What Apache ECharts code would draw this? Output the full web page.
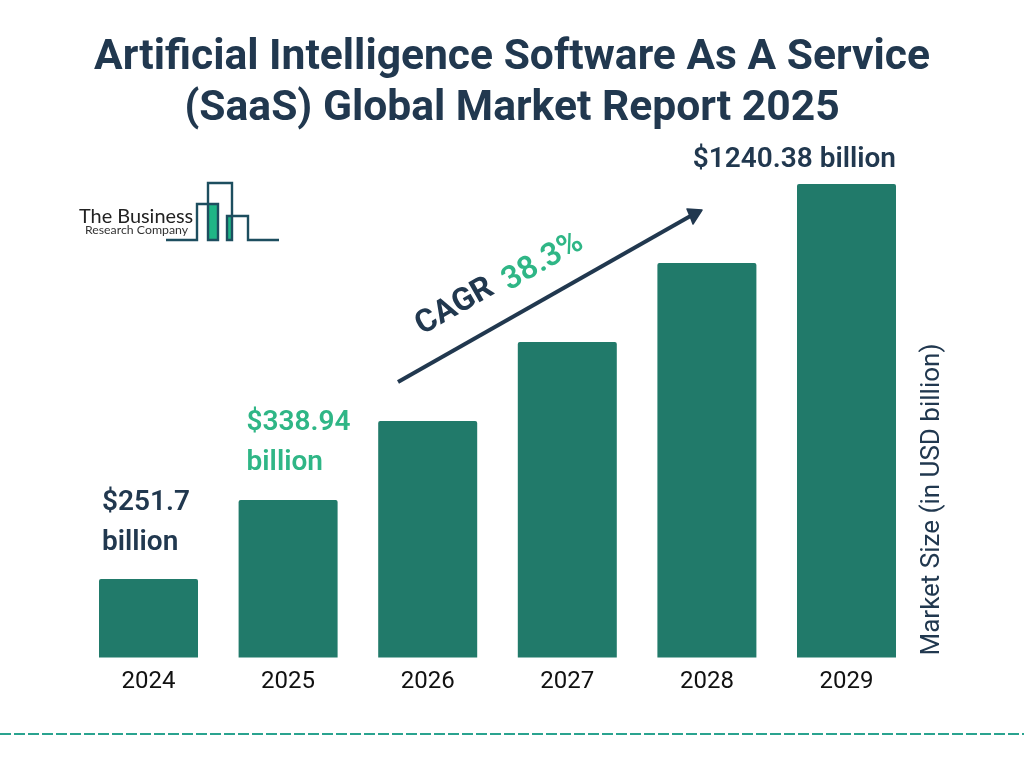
<!DOCTYPE html>
<html><head><meta charset="utf-8">
<style>html,body{margin:0;padding:0;background:#fff}#c{width:1024px;height:768px}</style>
<script src="https://cdn.jsdelivr.net/npm/echarts@6/dist/echarts.min.js"></script>
</head><body><div id="c"></div>
<script>
const years = ['2024','2025','2026','2027','2028','2029'];
// Bar heights as drawn in the picture (an even staircase), on a zero-based scale whose top is 1240.38.
const barValues = [205.6, 412.6, 619.5, 826.5, 1033.4, 1240.38];
// Printed labels; the picture prints three of them, and its bars are not proportional to them.
const barLabels = ['$251.7\nbillion', '$338.94\nbillion', '', '', '', '$1240.38 billion'];
const titleText = 'Artificial Intelligence Software As A Service\n(SaaS) Global Market Report 2025';
const yAxisName = 'Market Size (in USD billion)';
const NAVY = '#21384f', GREEN = '#2fb686', BAR = '#217a6a', LOGO = '#1d4e5f';
const FONT = 'Roboto';

const chart = echarts.init(document.getElementById('c'), null, {renderer:'canvas'});
chart.setOption({
  animation:false,
  backgroundColor:'#fff',
  title:{text:titleText,left:507,top:28,textAlign:'center',
    textStyle:{fontFamily:FONT,fontWeight:700,fontSize:42.6,lineHeight:51,color:NAVY}},
  grid:{left:78.7,right:107.7,top:184,bottom:110.5},
  xAxis:{type:'category',data:years,
    axisLine:{show:false},axisTick:{show:false},
    axisLabel:{fontFamily:FONT,fontSize:24,color:'#111',margin:12}},
  yAxis:{type:'value',min:0,max:1240.38,position:'right',
    axisLine:{show:false},axisTick:{show:false},axisLabel:{show:false},splitLine:{show:false},
    name:yAxisName,nameLocation:'start',nameRotate:90,nameGap:-2,
    nameTextStyle:{fontFamily:FONT,fontSize:26,color:NAVY,align:'left',verticalAlign:'top',padding:[3,0,0,0]}},
  series:[{type:'bar',barWidth:99,
    itemStyle:{color:BAR,borderRadius:[2,2,0,0]},
    data:barValues.map((v,i)=>{
      const isRight = i===5;
      return {value:v,label:{show:!!barLabels[i],formatter:barLabels[i],
        position:isRight?['100%',-4]:[i===1?8:3,i===1?-17:-16],align:isRight?'right':'left',verticalAlign:'bottom',
        fontFamily:FONT,fontWeight:600,fontSize:28,lineHeight:40,
        color:i===1?GREEN:NAVY}};
    })}],
  graphic:[
    {type:'line',shape:{x1:0,y1:734,x2:1024,y2:734},style:{stroke:'#2aa38f',lineWidth:2,lineDash:[11,3]}},
    {type:'line',shape:{x1:398,y1:382,x2:694,y2:214},style:{stroke:NAVY,lineWidth:4}},
    {type:'polygon',shape:{points:[[702,210],[693,224],[690,216],[687,209]]},style:{fill:NAVY,stroke:NAVY,lineWidth:1.5,lineJoin:'round'}},
    {type:'text',x:455,y:307,rotation:Math.PI*29.7/180,
      style:{text:'CAGR',x:0,y:0,align:'center',verticalAlign:'middle',fontFamily:FONT,fontWeight:700,fontSize:32,fill:NAVY}},
    {type:'text',x:543,y:262,rotation:Math.PI*29.7/180,
      style:{text:'38.3%',x:0,y:0,align:'center',verticalAlign:'middle',fontFamily:FONT,fontWeight:600,fontSize:32,fill:GREEN}},
    {type:'rect',shape:{x:209,y:204,width:9,height:35},style:{fill:'#1fb586'}},
    {type:'rect',shape:{x:227.5,y:217,width:4,height:22},style:{fill:'#1fb586'}},
    {type:'polyline',shape:{points:[[166,240],[197,240],[197,204],[218,204],[218,240],[208,240],[208,183],[232,183],[232,240],[227,240],[227,216],[248,216],[248,240],[279,240]]},
      style:{stroke:LOGO,lineWidth:2.4,fill:null}},
    {type:'text',x:79,y:217,style:{text:'The Business',fontFamily:'Lato',fontSize:19.9,fill:'#222',verticalAlign:'middle'}},
    {type:'text',x:85,y:230.5,style:{text:'Research Company',fontFamily:'Lato',fontSize:12.3,fill:'#333',verticalAlign:'middle'}}
  ]
});
</script></body></html>
